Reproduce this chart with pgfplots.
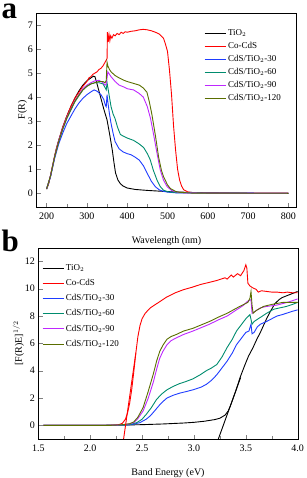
\documentclass[border=0pt]{standalone}
\usepackage{pgfplots}
\pgfplotsset{compat=1.18}
\usepackage{fontspec}
\setmainfont{Liberation Serif}
\definecolor{cblue}{RGB}{30,60,255}
\definecolor{cteal}{RGB}{0,140,110}
\definecolor{cpurp}{RGB}{190,40,255}
\definecolor{colive}{RGB}{90,110,0}
\pgfplotsset{
  common/.style={
    scale only axis,
    /pgf/number format/assume math mode=true,
    tick align=inside,
    xtick pos=bottom, ytick pos=left,
    minor x tick num=1,
    tick label style={font=\fontsize{10}{12}\selectfont},
    xticklabel style={yshift=-2pt},
    label style={font=\fontsize{10}{12}\selectfont},
    every axis plot/.append style={line width=0.9pt},
    legend cell align=left,
    legend image code/.code={\draw[#1] (0pt,0pt) -- (21pt,0pt);},
  }
}
\begin{document}
\begin{tikzpicture}
\useasboundingbox (0,0) rectangle (306pt,-478pt);
\node[anchor=base west,inner sep=0pt,font=\fontsize{31}{31}\selectfont\bfseries] at (1.5pt,-19pt) {a};
\node[anchor=base west,inner sep=0pt,font=\fontsize{31}{31}\selectfont\bfseries] at (1.5pt,-251pt) {b};
\begin{axis}[common,
  at={(36.5pt,-13pt)}, anchor=north west,
  width=260pt, height=194pt,
  xmin=175, xmax=820, ymin=-0.57, ymax=7.5,
  xtick={200,300,...,800}, ytick={0,1,...,7},
  xlabel={Wavelength (nm)}, ylabel={F(R)},
  xlabel style={yshift=-10pt}, ylabel style={yshift=-6pt},
  legend style={draw=none, fill=none, at={(0.64,0.93)}, anchor=north west,
    font=\fontsize{9}{10}\selectfont, row sep=1.2pt, inner sep=1pt},
]
\addplot[black] coordinates {(200,0.18)(205,0.4)(210,0.75)(215,1.15)(220,1.55)(225,1.9)(230,2.2)(240,2.75)(250,3.2)(260,3.6)(270,3.95)(280,4.25)(290,4.5)(300,4.68)(310,4.8)(316,4.87)(320,4.85)(326,4.5)(334,4.0)(342,3.5)(350,3.05)(356,2.5)(363,1.8)(367,1.3)(371,0.85)(377,0.55)(383,0.4)(390,0.3)(400,0.22)(420,0.16)(450,0.12)(500,0.07)(550,0.04)(600,0.02)(650,0.01)(700,0.0)(800,0.0)};
\addlegendentry{TiO$_2$}
\addplot[red] coordinates {(200,0.18)(205,0.4)(210,0.75)(215,1.15)(220,1.55)(225,1.9)(230,2.2)(240,2.75)(250,3.2)(260,3.6)(270,3.95)(280,4.2)(290,4.45)(300,4.65)(305,4.8)(310,4.85)(315,4.95)(320,5.0)(325,5.05)(330,5.15)(335,5.2)(340,5.3)(345,5.45)(350,5.6)(351,6.7)(353,6.3)(355,6.6)(357,6.35)(359,6.55)(362,6.45)(366,6.6)(370,6.55)(375,6.65)(380,6.6)(385,6.7)(390,6.65)(395,6.72)(400,6.7)(410,6.74)(420,6.76)(430,6.8)(440,6.82)(450,6.8)(460,6.76)(470,6.7)(480,6.62)(490,6.45)(495,6.2)(500,5.9)(505,5.1)(510,4.1)(515,2.8)(520,1.8)(525,1.0)(530,0.55)(535,0.3)(540,0.15)(550,0.06)(560,0.03)(600,0.02)(700,0.01)(800,0.01)};
\addlegendentry{Co-CdS}
\addplot[cblue] coordinates {(200,0.18)(210,0.7)(220,1.45)(230,2.05)(240,2.5)(250,2.9)(260,3.2)(270,3.5)(280,3.75)(290,3.95)(300,4.1)(310,4.22)(318,4.3)(325,4.25)(335,4.1)(342,3.9)(346,3.65)(348,3.6)(350,4.1)(352,3.8)(356,3.3)(360,2.9)(365,2.5)(370,2.15)(380,1.85)(390,1.72)(400,1.65)(410,1.6)(420,1.5)(430,1.38)(440,1.15)(450,0.82)(460,0.5)(470,0.27)(480,0.14)(490,0.08)(500,0.05)(520,0.02)(600,0.01)(800,0)};
\addlegendentry{CdS/TiO$_2$-30}
\addplot[cteal] coordinates {(200,0.18)(210,0.72)(220,1.5)(230,2.15)(240,2.65)(250,3.1)(260,3.45)(270,3.8)(280,4.05)(290,4.3)(300,4.45)(310,4.55)(320,4.6)(330,4.6)(340,4.55)(345,4.4)(348,4.3)(350,4.6)(352,4.4)(356,4.0)(360,3.6)(365,3.3)(370,3.1)(376,2.75)(383,2.45)(390,2.38)(400,2.3)(416,2.2)(430,2.05)(441,1.9)(450,1.65)(457,1.4)(465,0.95)(474,0.55)(482,0.28)(490,0.13)(500,0.07)(520,0.03)(600,0.01)(800,0)};
\addlegendentry{CdS/TiO$_2$-60}
\addplot[cpurp] coordinates {(200,0.18)(210,0.74)(220,1.52)(230,2.18)(240,2.7)(250,3.15)(260,3.5)(270,3.85)(280,4.1)(290,4.35)(300,4.5)(310,4.6)(320,4.68)(330,4.7)(340,4.6)(345,4.5)(348,4.55)(352,5.05)(356,4.95)(360,4.85)(370,4.65)(380,4.5)(392,4.42)(400,4.35)(416,4.3)(430,4.15)(440,4.0)(450,3.6)(458,3.1)(466,2.4)(474,1.66)(482,0.97)(490,0.55)(499,0.28)(510,0.12)(520,0.06)(540,0.02)(600,0.01)(800,0)};
\addlegendentry{CdS/TiO$_2$-90}
\addplot[colive] coordinates {(200,0.18)(210,0.74)(220,1.52)(230,2.15)(240,2.68)(250,3.12)(260,3.48)(270,3.82)(280,4.08)(290,4.3)(300,4.45)(310,4.55)(320,4.6)(330,4.65)(340,4.65)(345,4.6)(348,4.7)(350,5.45)(352,5.3)(356,5.15)(360,5.05)(370,4.9)(380,4.8)(392,4.7)(400,4.65)(416,4.57)(430,4.5)(440,4.38)(449,4.2)(455,3.8)(461,3.3)(470,2.4)(478,1.5)(485,0.95)(490,0.7)(500,0.35)(507,0.2)(520,0.08)(530,0.04)(560,0.01)(800,0)};
\addlegendentry{CdS/TiO$_2$-120}
\end{axis}
\begin{axis}[common,
  at={(38.3pt,-247.7pt)}, anchor=north west,
  width=259.4pt, height=191.3pt,
  xmin=1.5, xmax=4.0, ymin=-1, ymax=13,
  xtick={1.5,2.0,...,4.0}, ytick={0,2,...,12},
  xticklabel style={/pgf/number format/.cd,fixed,fixed zerofill,precision=1},
  xlabel={Band Energy (eV)}, ylabel={[F(R)E]$^{1/2}$},
  xlabel style={yshift=-10pt}, ylabel style={yshift=-6pt},
  legend style={draw=none, fill=none, at={(0.01,0.93)}, anchor=north west,
    font=\fontsize{9}{10}\selectfont, row sep=3.5pt, inner sep=1pt},
]
\addplot[black] coordinates {(1.55,0)(2.0,0)(2.3,0.02)(2.5,0.05)(2.7,0.1)(2.9,0.17)(3.0,0.22)(3.1,0.3)(3.2,0.42)(3.25,0.52)(3.3,0.75)(3.33,1.05)(3.35,1.4)(3.40,2.45)(3.447,3.55)(3.49,4.4)(3.525,5.05)(3.57,5.7)(3.606,6.3)(3.64,6.8)(3.67,7.3)(3.70,7.8)(3.734,8.3)(3.78,8.9)(3.82,9.2)(3.85,9.35)(3.9,9.5)(3.95,9.65)(4.0,9.8)};
\addlegendentry{TiO$_2$}
\addplot[red] coordinates {(1.55,0)(2.1,0)(2.2,0.01)(2.25,0.03)(2.28,0.06)(2.31,0.15)(2.34,0.45)(2.36,0.9)(2.38,1.6)(2.40,2.6)(2.42,3.9)(2.44,5.3)(2.46,6.5)(2.48,7.3)(2.50,7.8)(2.53,8.2)(2.58,8.6)(2.65,8.95)(2.74,9.4)(2.82,9.7)(2.90,9.93)(2.98,10.1)(3.06,10.3)(3.14,10.45)(3.22,10.6)(3.28,10.75)(3.30,10.8)(3.32,10.7)(3.36,11.0)(3.38,10.85)(3.42,11.1)(3.45,10.95)(3.47,11.2)(3.48,11.3)(3.50,11.75)(3.51,11.5)(3.52,10.4)(3.54,10.2)(3.57,10.05)(3.6,9.95)(3.62,9.75)(3.65,9.85)(3.70,9.8)(3.75,9.75)(3.8,9.75)(3.86,9.7)(3.9,9.75)(3.95,9.7)(4.0,9.7)};
\addlegendentry{Co-CdS}
\addplot[cblue] coordinates {(1.55,0)(2.3,0)(2.4,0.05)(2.48,0.2)(2.54,0.45)(2.58,0.7)(2.62,1.05)(2.67,1.5)(2.71,1.8)(2.74,2.0)(2.8,2.2)(2.86,2.35)(2.94,2.5)(3.0,2.62)(3.07,2.8)(3.12,3.0)(3.17,3.3)(3.22,3.7)(3.27,4.2)(3.32,4.7)(3.37,5.3)(3.41,5.9)(3.46,6.4)(3.5,6.8)(3.53,6.9)(3.55,7.4)(3.56,6.7)(3.58,6.8)(3.61,7.2)(3.64,7.4)(3.70,7.6)(3.75,7.8)(3.80,8.0)(3.85,8.1)(3.89,8.2)(3.95,8.35)(4.0,8.45)};
\addlegendentry{CdS/TiO$_2$-30}
\addplot[cteal] coordinates {(1.55,0)(2.3,0)(2.38,0.05)(2.45,0.2)(2.5,0.45)(2.54,0.8)(2.59,1.3)(2.64,1.9)(2.69,2.3)(2.74,2.6)(2.8,2.85)(2.86,3.05)(2.92,3.2)(2.99,3.4)(3.06,3.7)(3.12,4.0)(3.17,4.2)(3.22,4.45)(3.27,5.0)(3.32,5.7)(3.37,6.3)(3.41,6.9)(3.46,7.4)(3.5,7.8)(3.54,8.1)(3.56,7.4)(3.58,7.6)(3.64,7.9)(3.7,8.2)(3.77,8.5)(3.83,8.6)(3.89,8.7)(3.95,8.85)(4.0,9.0)};
\addlegendentry{CdS/TiO$_2$-60}
\addplot[cpurp] coordinates {(1.55,0)(2.2,0)(2.3,0.03)(2.38,0.1)(2.42,0.2)(2.46,0.5)(2.51,1.05)(2.56,2.0)(2.61,3.2)(2.64,4.1)(2.67,4.9)(2.7,5.4)(2.74,5.9)(2.78,6.2)(2.83,6.4)(2.9,6.65)(2.99,6.9)(3.07,7.15)(3.15,7.4)(3.23,7.7)(3.32,8.0)(3.38,8.3)(3.44,8.6)(3.48,8.8)(3.52,9.1)(3.55,9.2)(3.56,8.2)(3.6,8.4)(3.64,8.6)(3.7,8.7)(3.8,8.8)(3.9,9.0)(4.0,9.25)};
\addlegendentry{CdS/TiO$_2$-90}
\addplot[colive] coordinates {(1.55,0)(2.2,0)(2.3,0.04)(2.38,0.12)(2.42,0.25)(2.46,0.6)(2.51,1.3)(2.56,2.5)(2.61,3.8)(2.64,4.7)(2.67,5.4)(2.7,5.85)(2.74,6.3)(2.78,6.5)(2.83,6.65)(2.9,6.9)(2.99,7.1)(3.07,7.35)(3.15,7.6)(3.23,7.9)(3.32,8.2)(3.38,8.45)(3.44,8.7)(3.48,8.85)(3.52,9.0)(3.54,9.3)(3.55,9.8)(3.56,8.8)(3.57,8.2)(3.6,8.4)(3.67,8.7)(3.75,8.85)(3.86,9.0)(4.0,9.0)};
\addlegendentry{CdS/TiO$_2$-120}
\addplot[black, forget plot] coordinates {(3.235,-1)(3.45,3.5)};
\addplot[red, forget plot] coordinates {(2.322,-1)(2.44,5.3)};
\end{axis}
\end{tikzpicture}
\end{document}
